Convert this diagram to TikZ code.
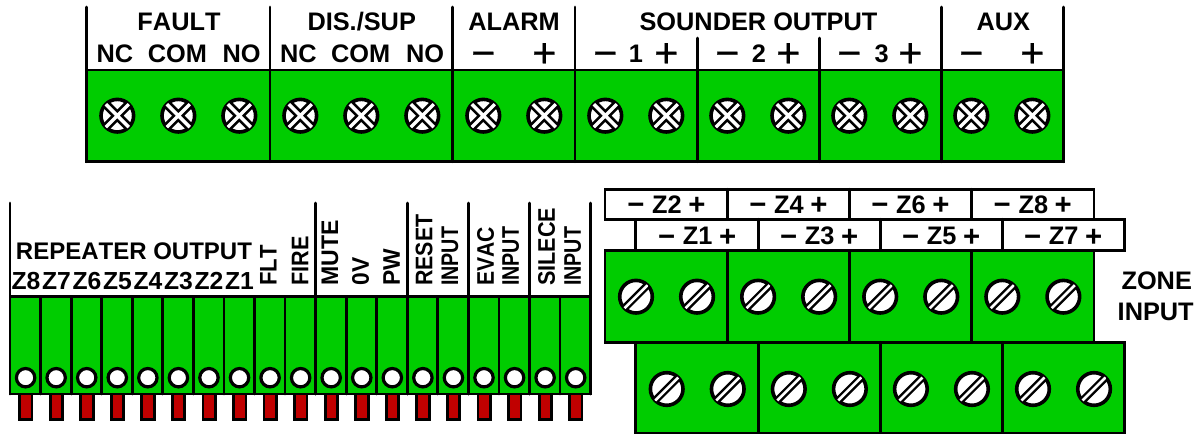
\documentclass[tikz,border=0pt]{standalone}
\usepackage{fontspec}
\setmainfont[Kerning=Off]{Liberation Sans}
\newfontface\signfont[FakeBold=0.6]{Liberation Sans}
\usepackage{xcolor}
\usetikzlibrary{positioning}
\definecolor{termgreen}{HTML}{00CC00}
\definecolor{pinred}{HTML}{C00000}

\begin{document}
\begin{tikzpicture}[x=0.75pt, y=-0.75pt, line width=2.1pt, line cap=round,
lbl/.style={font=\fontsize{19}{19}\selectfont\bfseries, inner sep=0pt},
smalllbl/.style={font=\fontsize{18}{18}\selectfont\bfseries, inner sep=0pt},
replbl/.style={font=\fontsize{18.5}{18.5}\selectfont\bfseries, inner sep=0pt},
vlbl/.style={font=\fontsize{18}{18}\selectfont\bfseries, inner sep=0pt, rotate=90, anchor=west},
bigsign/.style={font=\fontsize{31}{31}\selectfont\signfont, inner sep=0pt},
zsign/.style={font=\fontsize{22}{22}\selectfont\bfseries, inner sep=0pt},
block/.style={draw=black, fill=termgreen},
crossscrew/.pic={
    \draw [fill=white, line width=2.7pt] (0, 0) circle (16.3);
    \begin{scope}
        \clip (0, 0) circle (16.3);
        \draw [line width=6.6pt, line cap=butt] (-13, -13) -- (13, 13) (-13, 13) -- (13, -13);
        \draw [white, line width=2.6pt, line cap=butt] (-14, -14) -- (14, 14) (-14, 14) -- (14, -14);
    \end{scope}
},
slotscrew/.pic={
    \draw [fill=white, line width=2.7pt] (0, 0) circle (16.3);
    \begin{scope}
        \clip (0, 0) circle (16.3);
        \draw [line width=5.6pt, line cap=butt] (-14, 14) -- (14, -14);
        \draw [white, line width=2pt, line cap=butt] (-15, 15) -- (15, -15);
    \end{scope}
}
]
    \useasboundingbox (0, 0) rectangle (1199, 434);

    % Top terminal strip
    \draw [block] (86.7, 70) rectangle (1063.3, 161.7);
    \foreach \x in {86.7, 270, 452.7, 575, 941.3, 1063.3}
        \draw (\x, 7) -- (\x, 161.7);
    \foreach \x in {697.3, 819.3}
        \draw (\x, 38) -- (\x, 161.7);
    \foreach \n in {0, ..., 15}
        \pic at (117.3 + 61*\n, 115.7) {crossscrew};

    % Top labels
    \node [lbl] (fault) at (179, 22) {FAULT};
    \node [lbl] (dissup) at (361.7, 22) {DIS./SUP};
    \node [lbl] (alarm) at (514, 22) {ALARM};
    \node [lbl] (sounder) at (758.5, 22) {SOUNDER OUTPUT};
    \node [lbl] (aux) at (1003.3, 22) {AUX};
    \foreach \x/\t in {115/NC, 177.3/COM, 241.7/NO, 298.3/NC, 360.7/COM, 425/NO}
        \node [lbl] (top\t\x) at (\x, 53.5) {\t};
    \foreach \x/\t in {636/1, 759/2, 881.7/3}
        \node [lbl, anchor=base] (top\t) at (\x, 63) {\t};
    \foreach \x in {483.3, 605.3, 727.3, 849.3, 971.3}
        \node [bigsign, anchor=base] (minus\x) at (\x, 67) {−};
    \foreach \x in {544.3, 666.3, 788.3, 910.3, 1032.3}
        \node [bigsign, anchor=base] (plus\x) at (\x, 67) {+};

    % Repeater strip: pins go under the green part
    \foreach \n in {0, ..., 18}
        \draw [fill=pinred] (19.6 + 30.56*\n, 390) rectangle (32 + 30.56*\n, 419.5);
    \draw [block] (10, 296.7) rectangle (590.7, 394);
    \foreach \x in {10, 315.7, 407.3, 468.3, 529.3, 590.7}
        \draw (\x, 203) -- (\x, 394);
    \foreach \n in {1, ..., 18}
        \draw (10 + 30.56*\n, 296.7) -- (10 + 30.56*\n, 394);
    \foreach \n in {0, ..., 18}
        \draw [fill=white, line width=2.4pt] (25.6 + 30.56*\n, 377.7) circle (9.2);

    % Repeater labels
    \node [smalllbl] (repeater) at (134, 251.7) {REPEATER OUTPUT};
    \foreach \x/\t in {26/Z8, 56.5/Z7, 87/Z6, 117.5/Z5, 148/Z4, 178.5/Z3, 209/Z2, 239.5/Z1}
        \node [replbl] (rep\t) at (\x, 281) {\t};
    \foreach \x/\t/\s in {268.3/FLT/0.92, 300/FIRE/0.9, 330/MUTE/0.96, 360.7/0V/0.95, 391.7/PW/0.95, 424/RESET/0.89, 450/INPUT/0.82, 485.7/EVAC/0.88, 510.7/INPUT/0.82, 546.7/SILECE/0.9, 572.7/INPUT/0.82}
        \node [vlbl, xscale=\s] (v\t\x) at (\x, 287) {\t};

    % Zone labels, two rows
    \draw [fill=white] (605, 189.3) rectangle (1094, 219.3);
    \foreach \x in {727.3, 849.3, 971.7}
        \draw (\x, 189.3) -- (\x, 219.3);
    \draw [fill=white] (635.7, 219.3) rectangle (1124.3, 250.7);
    \foreach \x in {758.3, 880.7, 1002.3}
        \draw (\x, 219.3) -- (\x, 250.7);
    \foreach \x/\t in {636/Z2, 758/Z4, 880/Z6, 1002.3/Z8}
    {
        \node [zsign, anchor=base] (m\t) at (\x, 215) {−};
        \node [lbl] (lab\t) at (\x + 31, 204.5) {\t};
        \node [zsign, anchor=base] (p\t) at (\x + 61, 215) {+};
    }
    \foreach \x/\t in {666.7/Z1, 788.7/Z3, 910.7/Z5, 1032.7/Z7}
    {
        \node [zsign, anchor=base] (m\t) at (\x, 246.5) {−};
        \node [lbl] (lab\t) at (\x + 31, 236) {\t};
        \node [zsign, anchor=base] (p\t) at (\x + 61, 246.5) {+};
    }

    % Zone blocks
    \draw [block] (605, 250.7) rectangle (1094, 342.3);
    \foreach \x in {727.3, 849.3, 971.7}
        \draw (\x, 250.7) -- (\x, 342.3);
    \draw [block] (635.7, 342.3) rectangle (1124.3, 433);
    \foreach \x in {758.3, 880.7, 1002.3}
        \draw (\x, 342.3) -- (\x, 433);
    \foreach \n in {0, ..., 7}
    {
        \pic at (636 + 61.05*\n, 296.7) {slotscrew};
        \pic at (666.7 + 61.05*\n, 389) {slotscrew};
    }

    \node [lbl] (zone) at (1156.7, 281) {ZONE};
    \node [lbl] (input) at (1155.7, 312.3) {INPUT};
\end{tikzpicture}
\end{document}
